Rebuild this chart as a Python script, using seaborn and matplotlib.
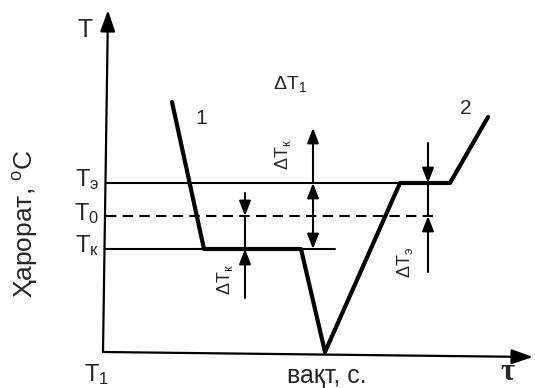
import numpy as np
import pandas as pd
import matplotlib
matplotlib.use('Agg')
import matplotlib.pyplot as plt
import seaborn as sns

# levels on the temperature axis (arbitrary units)
T_E, T_0, T_K, T_1 = 169, 136, 103, 0
level_ends = {'T_E': 347, 'T_0': 330, 'T_K': 232}

# process curve: time vs temperature
curve_t = [69, 101, 198, 222, 297, 347, 385]
curve_T = [250, T_K, T_K, T_1, T_E, T_E, 235]

# dimension arrows (time position)
dim_A, dim_B, dim_C = 142, 210, 325

sns.set_style('white')
plt.rcParams['font.family'] = ['Liberation Sans', 'DejaVu Sans']
plt.rcParams['mathtext.fontset'] = 'custom'
plt.rcParams['mathtext.rm'] = 'Liberation Sans'
plt.rcParams['mathtext.it'] = 'Liberation Sans'

fig = plt.figure(figsize=(5.35, 3.88), dpi=100)
ax = fig.add_axes([0, 0, 1, 1])
ax.set_xlim(-103, 432)
ax.set_ylim(-36, 352)
ax.axis('off')

# axes with arrows
big = dict(arrowstyle='-|>,head_length=1.3,head_width=0.45', lw=1.6, color='k',
           shrinkA=0, shrinkB=0)
ax.annotate('', xy=(5, 342), xytext=(0, 0), arrowprops=big)
ax.annotate('', xy=(430, -5), xytext=(0, 0), arrowprops=big)

# level lines
lv = pd.DataFrame({'t': [3, level_ends['T_E'], np.nan, 3, level_ends['T_K']],
                   'T': [T_E, T_E, np.nan, T_K, T_K]})
ax.plot(lv['t'], lv['T'], color='k', lw=1.5)
ax.plot([3, level_ends['T_0']], [T_0, T_0], color='k', lw=1.5, dashes=(5, 3))

# main curve
df = pd.DataFrame({'t': curve_t, 'T': curve_T})
sns.lineplot(data=df, x='t', y='T', sort=False, color='k', lw=3, ax=ax,
             estimator=None)
ax.axis('off')

small = dict(arrowstyle='-|>,head_length=0.9,head_width=0.35', lw=1.5, color='k',
             shrinkA=0, shrinkB=0)
both = dict(arrowstyle='<|-|>,head_length=0.9,head_width=0.35', lw=1.5, color='k',
            shrinkA=0, shrinkB=0)

# A: between T0 and Tk
ax.annotate('', xy=(dim_A, T_0), xytext=(dim_A, 159), arrowprops=small)
ax.annotate('', xy=(dim_A, T_K), xytext=(dim_A, 54), arrowprops=small)
ax.plot([dim_A, dim_A], [T_K, T_0], color='k', lw=1.5)
# B: between Te and Tk
ax.annotate('', xy=(dim_B, 224), xytext=(dim_B, T_E), arrowprops=small)
ax.annotate('', xy=(dim_B, T_K), xytext=(dim_B, T_E), arrowprops=both)
# C: between Te and T0
ax.annotate('', xy=(dim_C, T_E), xytext=(dim_C, 209), arrowprops=small)
ax.annotate('', xy=(dim_C, T_0), xytext=(dim_C, 80), arrowprops=small)
ax.plot([dim_C, dim_C], [T_0, T_E], color='k', lw=1.5)

# texts
fs = 17
ax.text(-18, 322, 'T', fontsize=18, ha='center', va='center')
ax.text(-16, T_E + 3, r'$\mathregular{T_{э}}$', fontsize=fs, ha='center', va='center')
ax.text(-16, T_0 + 2, r'$\mathregular{T_{0}}$', fontsize=fs, ha='center', va='center')
ax.text(-16, T_K + 3, r'$\mathregular{T_{к}}$', fontsize=fs, ha='center', va='center')
ax.text(-6, -23, r'$\mathregular{T_{1}}$', fontsize=fs, ha='center', va='center')
ax.text(187, 268, r'$\mathregular{\Delta T_{1}}$', fontsize=14, ha='center', va='center')
ax.text(98, 234, '1', fontsize=15, ha='center', va='center')
ax.text(363, 244, '2', fontsize=15, ha='center', va='center')
ax.text(122, 72, r'$\mathregular{\Delta T_{к}}$', fontsize=13, rotation=90,
        ha='center', va='center')
ax.text(180, 197, r'$\mathregular{\Delta T_{к}}$', fontsize=13, rotation=90,
        ha='center', va='center')
ax.text(302, 90, r'$\mathregular{\Delta T_{э}}$', fontsize=13, rotation=90,
        ha='center', va='center')
ax.text(224, -24, 'вақт, с.', fontsize=18, ha='center', va='center')
ax.text(404, -21, 'τ', fontsize=22, fontweight='bold', family='Liberation Serif',
        ha='center', va='center')
ax.text(-78, 128, 'Ҳарорат, $\\mathregular{^{o}C}$', fontsize=19, rotation=90,
        ha='center', va='center')

fig.savefig('out.png', dpi=100)
